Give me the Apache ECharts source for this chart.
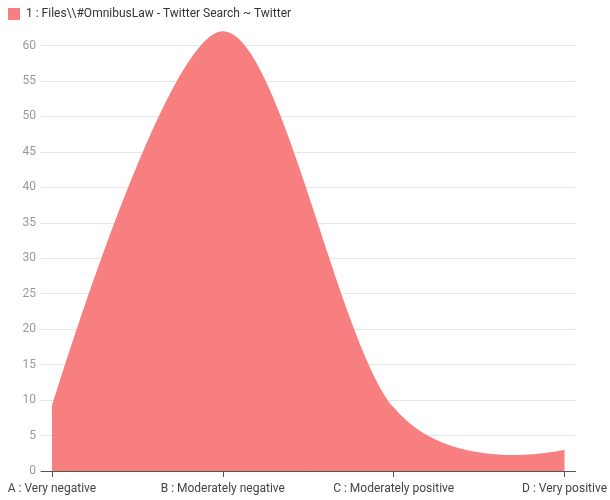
<!DOCTYPE html>
<html>
<head>
<meta charset="utf-8">
<script src="https://cdn.jsdelivr.net/npm/echarts@6/dist/echarts.min.js"></script>
<style>
  html, body { margin: 0; padding: 0; background: #fff; }
  #chart { width: 610px; height: 500px; }
</style>
</head>
<body>
<div id="chart"></div>
<script>
// Sentiment distribution of tweets for the search
const seriesName = '1 : Files\\\\#OmnibusLaw - Twitter Search ~ Twitter';
const categories = ['A : Very negative', 'B : Moderately negative', 'C : Moderately positive', 'D : Very positive'];
const values = [9, 62, 9, 3];
const yTicks = [0, 5, 10, 15, 20, 25, 30, 35, 40, 45, 50, 55, 60];

const points = values.map((v, i) => [i, v]);
const positions = categories.map((_, i) => i);
const FILL = '#f77f7f';

// Catmull-Rom outline in pixel space (handles = (next - prev) / 6),
// end points keep zero-length handles; closed down to the zero baseline.
function areaPath(api) {
  const px = points.map(p => api.coord(p));
  const base = api.coord([0, 0])[1];
  const n = px.length;
  const handles = px.map((cur, i) => {
    if (i === 0 || i === n - 1) return [cur, cur];
    const dx = (px[i + 1][0] - px[i - 1][0]) / 6;
    const dy = (px[i + 1][1] - px[i - 1][1]) / 6;
    return [[cur[0] - dx, cur[1] - dy], [cur[0] + dx, cur[1] + dy]];
  });
  const P = p => p[0] + ',' + p[1];
  let d = 'M' + px[0][0] + ',' + base + 'L' + P(px[0]);
  for (let i = 1; i < n; i++) {
    d += 'C' + P(handles[i - 1][1]) + ' ' + P(handles[i][0]) + ' ' + P(px[i]);
  }
  d += 'L' + px[n - 1][0] + ',' + base + 'Z';
  return d;
}

const chart = echarts.init(document.getElementById('chart'), null, { renderer: 'canvas' });
chart.setOption({
  animation: false,
  textStyle: { fontFamily: 'Roboto' },
  legend: {
    left: 8, top: 8, padding: 0,
    itemWidth: 12, itemHeight: 12, itemGap: 10,
    icon: 'rect',
    textStyle: { fontSize: 12, color: '#333', padding: [0, 0, 0, 1] },
    data: [seriesName]
  },
  grid: { left: 41, right: 31, top: 45.5, bottom: 29 },
  xAxis: {
    type: 'value',
    min: -0.064, max: 3.064,
    axisLine: { show: true, lineStyle: { color: '#555', width: 1 } },
    axisTick: { show: true, length: 6, lineStyle: { color: '#555' }, customValues: positions },
    axisLabel: {
      customValues: positions,
      color: '#444', fontSize: 12, margin: 12,
      formatter: v => categories[Math.round(v)]
    },
    splitLine: { show: false }
  },
  yAxis: {
    type: 'value',
    min: 0, max: 60, interval: 5,
    axisLine: { show: false },
    axisTick: { show: false },
    axisLabel: { color: '#999', fontSize: 12, margin: 5, formatter: v => yTicks.includes(v) ? String(v) : '' },
    splitLine: { lineStyle: { color: '#e6e6e6', width: 1 } }
  },
  series: [{
    name: seriesName,
    type: 'custom',
    clip: false,
    itemStyle: { color: FILL },
    encode: { x: 0, y: 1 },
    data: points,
    renderItem: (params, api) => {
      if (params.dataIndex !== 0) return null;
      return {
        type: 'path',
        shape: { pathData: areaPath(api) },
        style: { fill: FILL, stroke: null }
      };
    }
  }]
});
</script>
</body>
</html>
